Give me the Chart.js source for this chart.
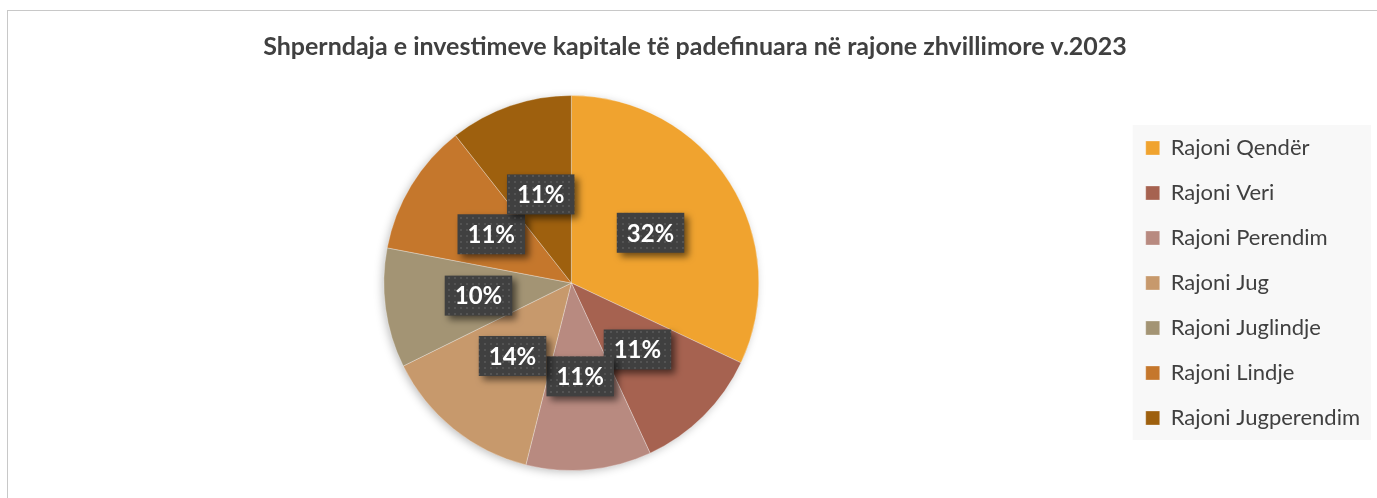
<!DOCTYPE html>
<html>
<head>
<meta charset="utf-8">
<script src="https://cdn.jsdelivr.net/npm/chart.js@4.4.1/dist/chart.umd.min.js"></script>
<style>
  html, body { margin: 0; padding: 0; background: #fff; overflow: hidden; }
  #frame { position: absolute; left: 7px; top: 10px; width: 1420px; height: 540px; border: 1px solid #c8c8c8; }
  #wrap { position: absolute; left: 0; top: 0; width: 1369px; height: 487px; }
</style>
</head>
<body>
<div id="frame"><div id="wrap"><canvas id="pieChart"></canvas></div></div>
<script>
// data (shares in %)
const chartTitle = 'Shperndaja e investimeve kapitale të padefinuara në rajone zhvillimore v.2023';
const regions = ['Rajoni Qendër', 'Rajoni Veri', 'Rajoni Perendim', 'Rajoni Jug', 'Rajoni Juglindje', 'Rajoni Lindje', 'Rajoni Jugperendim'];
const shares = [32.0, 11.1, 10.8, 13.8, 10.3, 11.4, 10.6];
const sliceColors = ['#F0A32F', '#A66250', '#B88A80', '#C7996C', '#A39474', '#C5772C', '#9E600E'];

const FONT = 'Lato, "Open Sans", sans-serif';

// dotted dark fill like the excel label boxes
function dotPattern(ctx) {
    const c = document.createElement('canvas');
    c.width = 6; c.height = 6;
    const g = c.getContext('2d');
    g.fillStyle = '#404040';
    g.fillRect(0, 0, 6, 6);
    g.fillStyle = '#535353';
    g.fillRect(2, 2, 2, 2);
    return ctx.createPattern(c, 'repeat');
}

const pieShadow = {
    id: 'pieShadow',
    beforeDatasetsDraw(chart) {
        const arc = chart.getDatasetMeta(0).data[0];
        if (!arc) return;
        const ctx = chart.ctx;
        ctx.save();
        ctx.shadowColor = 'rgba(0,0,0,0.28)';
        ctx.shadowBlur = 10;
        ctx.shadowOffsetX = -2;
        ctx.shadowOffsetY = 2;
        ctx.fillStyle = '#ddd';
        ctx.beginPath();
        ctx.arc(arc.x, arc.y, arc.outerRadius - 1, 0, Math.PI * 2);
        ctx.fill();
        ctx.restore();
    }
};

const legendPanel = {
    id: 'legendPanel',
    beforeDraw(chart) {
        const lg = chart.legend;
        if (!lg || !lg.legendHitBoxes || !lg.legendHitBoxes.length) return;
        const hb = lg.legendHitBoxes;
        const first = hb[0], last = hb[hb.length - 1];
        const top = first.top + first.height / 2 - 23;
        const bottom = last.top + last.height / 2 + 22;
        const left = first.left - 13;
        const ctx = chart.ctx;
        ctx.save();
        ctx.fillStyle = '#f8f8f8';
        ctx.fillRect(left, top, chart.width - 6 - left, bottom - top);
        ctx.restore();
    }
};

const labelBoxes = {
    id: 'labelBoxes',
    afterDatasetsDraw(chart) {
        const ctx = chart.ctx;
        const meta = chart.getDatasetMeta(0);
        const total = shares.reduce((a, b) => a + b, 0);
        const fill = dotPattern(ctx);
        ctx.save();
        ctx.font = 'bold 24px ' + FONT;
        ctx.textAlign = 'center';
        ctx.textBaseline = 'middle';
        meta.data.forEach((arc, i) => {
            const p = arc.getCenterPoint();
            const txt = Math.round(shares[i] / total * 100) + '%';
            const w = ctx.measureText(txt).width + 20;
            const h = 40;
            ctx.save();
            ctx.shadowColor = 'rgba(0,0,0,0.55)';
            ctx.shadowBlur = 7;
            ctx.shadowOffsetX = 4;
            ctx.shadowOffsetY = 4;
            ctx.fillStyle = fill;
            ctx.fillRect(p.x - w / 2, p.y - h / 2, w, h);
            ctx.restore();
            ctx.fillStyle = '#ffffff';
            ctx.fillText(txt, p.x, p.y + 1);
        });
        ctx.restore();
    }
};

new Chart(document.getElementById('pieChart').getContext('2d'), {
    type: 'pie',
    data: {
        labels: regions,
        datasets: [{
            data: shares,
            backgroundColor: sliceColors,
            borderColor: 'rgba(255,255,255,0.3)',
            borderWidth: 1
        }]
    },
    options: {
        responsive: true,
        maintainAspectRatio: false,
        animation: false,
        layout: { padding: { left: 12, right: 7, top: 0, bottom: 27 } },
        plugins: {
            title: {
                display: true,
                text: chartTitle,
                color: '#404040',
                font: { family: FONT, size: 25, weight: 'bold' },
                padding: { top: 21, bottom: 33 }
            },
            legend: {
                position: 'right',
                fullSize: false,
                labels: {
                    color: '#404040',
                    font: { family: FONT, size: 22 },
                    boxWidth: 14,
                    boxHeight: 14,
                    padding: 23
                }
            },
            tooltip: { enabled: false }
        }
    },
    plugins: [pieShadow, legendPanel, labelBoxes]
});
</script>
</body>
</html>
